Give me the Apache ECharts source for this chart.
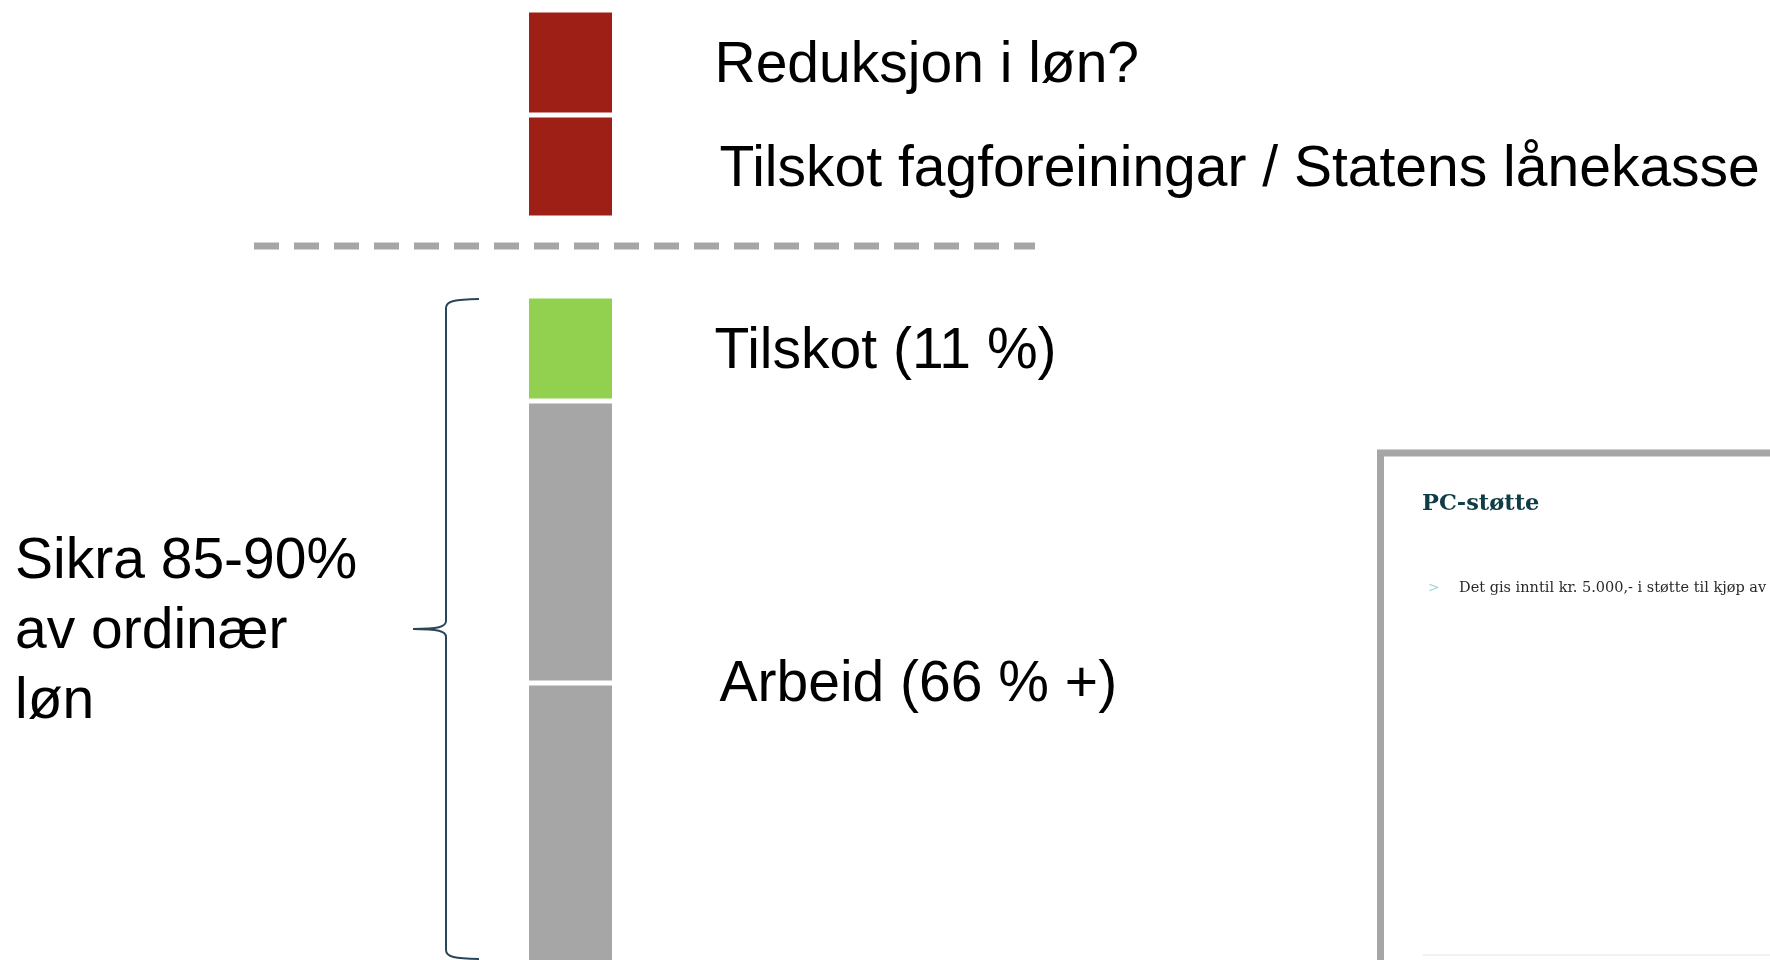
<!DOCTYPE html>
<html>
<head>
<meta charset="utf-8">
<title>Sikra løn</title>
<script src="https://cdn.jsdelivr.net/npm/echarts@6/dist/echarts.min.js"></script>
<style>
	html, body { margin: 0; padding: 0; background: #fff; }
	#chart { width: 1770px; height: 960px; }
</style>
</head>
<body>
<div id="chart"></div>
<script>
// segments from top to bottom, the third one is the blank space round the dashed line
var segmentNames = ['Reduksjon i løn?', 'Tilskot fagforeiningar / Statens lånekasse', '', 'Tilskot (11 %)', 'Arbeid (66 % +)', ''];
var segmentValues = [105, 103, 78, 105, 282, 282];
var axisMax = 950;
var dividerValue = 236;

var braceText = 'Sikra 85-90%\nav ordinær\nløn';
var boxTitle = 'PC-støtte';
var boxBullet = 'Det gis inntil kr. 5.000,- i støtte til kjøp av';

var segmentColors = ['#9e1f16', '#9e1f16', 'transparent', '#92d050', '#a6a6a6', '#a6a6a6'];
var labelGap = [100, 105, 0, 100, 105, 0];
var FONT = '"Liberation Sans", Arial, sans-serif';

var chart = echarts.init(document.getElementById('chart'));

var series = [];
for (var i = 0; i < segmentValues.length; i++) {
	var label = {show: false};
	if (segmentNames[i]) {
		label = {
			show: true,
			position: 'right',
			distance: labelGap[i],
			offset: [0, 4],
			formatter: segmentNames[i],
			color: '#000',
			fontSize: 57,
			fontFamily: FONT
		};
		// Arbeid sits on the line between the two grey blocks
		if (i == 4) {
			label.position = ['100%', '100%'];
			label.offset = [labelGap[i], 2];
			label.align = 'left';
			label.verticalAlign = 'middle';
		}
	}
	series.push({
		type: 'bar',
		stack: 'lon',
		barWidth: 88,
		clip: false,
		silent: true,
		data: [segmentValues[i]],
		itemStyle: {
			color: segmentColors[i],
			borderColor: '#fff',
			borderWidth: segmentColors[i] == 'transparent' ? 0 : 2.5
		},
		label: label
	});
}

chart.setOption({
	animation: false,
	backgroundColor: '#fff',
	grid: {left: 470, right: 1099, top: 10, bottom: 0},
	xAxis: {type: 'category', data: ['løn'], show: false},
	yAxis: {type: 'value', inverse: true, min: 0, max: axisMax, show: false, splitLine: {show: false}},
	series: series
});

// pixel positions from the axis
function py(v) {
	return chart.convertToPixel({yAxisIndex: 0}, v);
}
var before = 0;
for (var j = 0; j < 3; j++) before += segmentValues[j];
var total = 0;
for (var k = 0; k < segmentValues.length; k++) total += segmentValues[k];

var yDash = py(dividerValue);
var yt = py(before) + 3;
var yb = Math.min(py(total), 959);
var ym = (yt + yb) / 2;
var xv = 446, xe = 479, xt = 413;
var braceStyle = {stroke: '#2b4656', lineWidth: 2, fill: 'none'};

chart.setOption({
	graphic: [
		{
			type: 'line',
			shape: {x1: 254, y1: yDash, x2: 1035, y2: yDash},
			style: {stroke: '#a6a6a6', lineWidth: 7, lineDash: [25, 15]}
		},
		{type: 'bezierCurve', shape: {x1: xe, y1: yt, cpx1: 455, cpy1: yt + 0.5, cpx2: xv, cpy2: yt + 2, x2: xv, y2: yt + 9}, style: braceStyle},
		{type: 'line', shape: {x1: xv, y1: yt + 9, x2: xv, y2: ym - 8}, style: braceStyle},
		{type: 'bezierCurve', shape: {x1: xv, y1: ym - 8, cpx1: xv, cpy1: ym - 2, cpx2: 438, cpy2: ym, x2: xt, y2: ym}, style: braceStyle},
		{type: 'bezierCurve', shape: {x1: xt, y1: ym, cpx1: 438, cpy1: ym, cpx2: xv, cpy2: ym + 2, x2: xv, y2: ym + 8}, style: braceStyle},
		{type: 'line', shape: {x1: xv, y1: ym + 8, x2: xv, y2: yb - 9}, style: braceStyle},
		{type: 'bezierCurve', shape: {x1: xv, y1: yb - 9, cpx1: xv, cpy1: yb - 2, cpx2: 455, cpy2: yb - 0.5, x2: xe, y2: yb}, style: braceStyle},
		{
			type: 'text',
			x: 15,
			y: ym + 3,
			style: {
				text: braceText,
				fill: '#000',
				font: '57px ' + FONT,
				lineHeight: 70,
				align: 'left',
				verticalAlign: 'middle'
			}
		},
		// picture of the PC-støtte page, cut off at the edge
		{
			type: 'rect',
			shape: {x: 1380.5, y: 453, width: 600, height: 600},
			style: {fill: '#fff', stroke: '#a6a6a6', lineWidth: 7}
		},
		{
			type: 'text',
			x: 1422,
			y: 504,
			style: {text: boxTitle, fill: '#0f3d45', font: 'bold 22.5px "DejaVu Serif", serif', verticalAlign: 'middle'}
		},
		{
			type: 'text',
			x: 1428,
			y: 588,
			style: {text: '>', fill: '#a9cfdb', font: '14px "DejaVu Sans", sans-serif', verticalAlign: 'middle'}
		},
		{
			type: 'text',
			x: 1459,
			y: 588,
			style: {text: boxBullet, fill: '#2a2a2a', font: '14.5px "DejaVu Serif", serif', verticalAlign: 'middle'}
		},
		{
			type: 'line',
			shape: {x1: 1423, y1: 955, x2: 1770, y2: 955},
			style: {stroke: '#ececec', lineWidth: 1.5}
		}
	]
});
</script>
</body>
</html>
